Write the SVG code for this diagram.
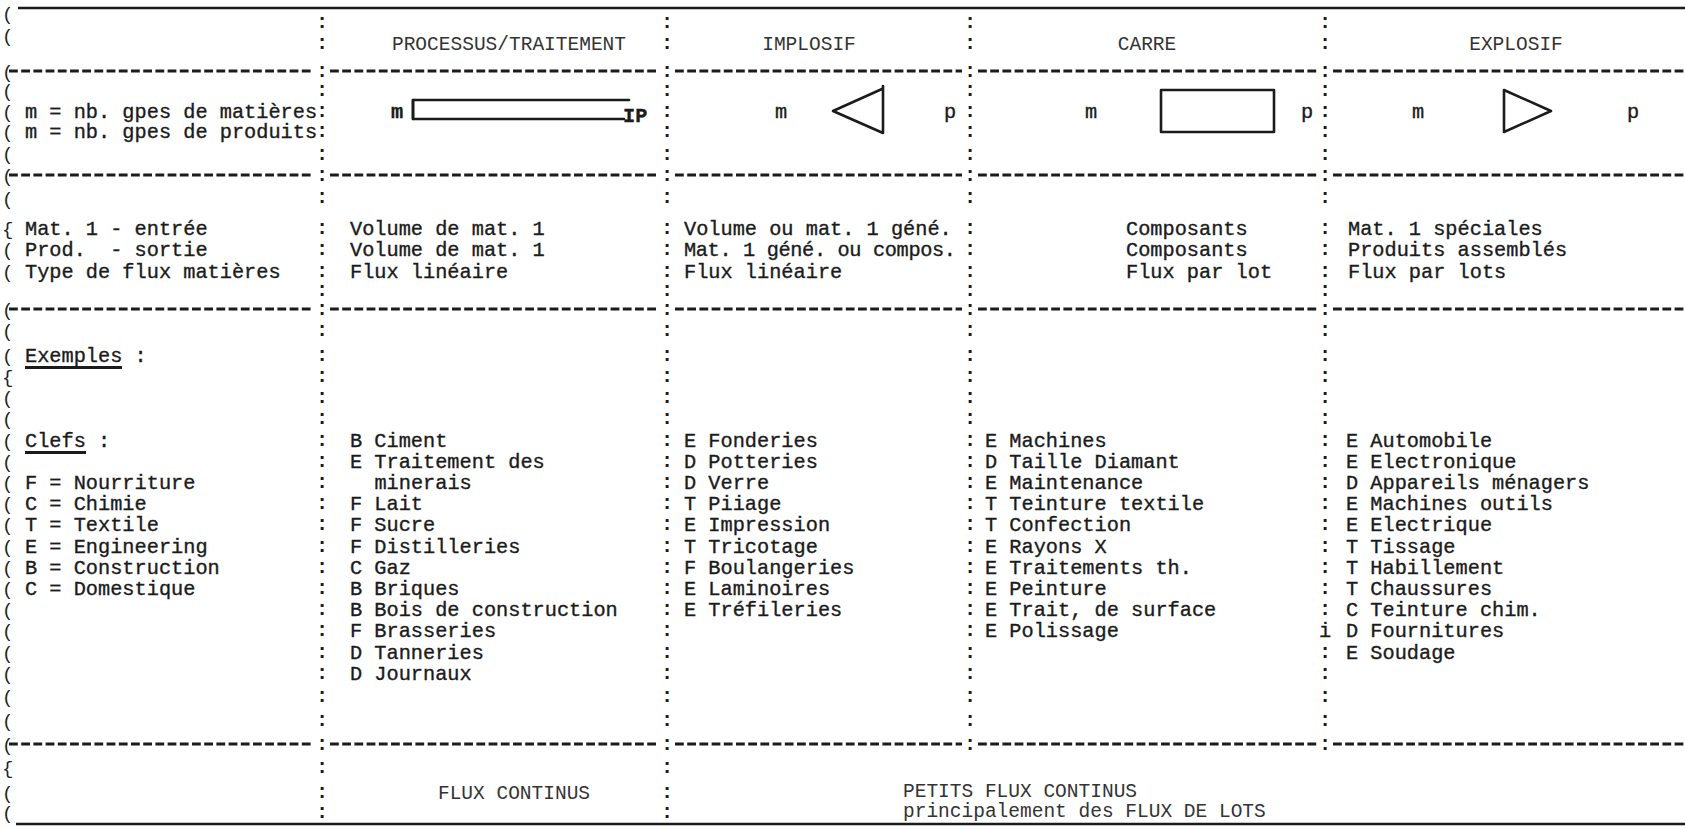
<svg xmlns="http://www.w3.org/2000/svg" width="1685" height="829" viewBox="0 0 1685 829" xml:space="preserve">
<style>
text{font-family:"Liberation Mono","DejaVu Sans Mono",monospace;font-size:20.3px;fill:#1b1b1b;stroke:#1b1b1b;stroke-width:0.35;white-space:pre}
.hd{font-size:19.5px;fill:#333;stroke:none}
.mid{text-anchor:middle}
.sep{font-weight:bold;text-anchor:middle;stroke:none}
.par{font-size:19px;fill:#222;stroke:none}
.b{font-weight:bold}
.solid{stroke:#1b1b1b;stroke-width:2.6;fill:none}
.dash{stroke:#1b1b1b;stroke-width:3;fill:none;stroke-dasharray:8.8 3.4}
.shape{stroke:#1b1b1b;stroke-width:2.6;fill:none;stroke-linejoin:round;stroke-linecap:round}
.ul{stroke:#1b1b1b;stroke-width:2.8}
</style>
<defs>
  <!-- one typed row of dashes, broken at the four column colons -->
  <g id="dashrow" class="dash">
    <line x1="9" y1="0" x2="314" y2="0"/>
    <line x1="330" y1="0" x2="659" y2="0"/>
    <line x1="675" y1="0" x2="962" y2="0"/>
    <line x1="978" y1="0" x2="1317" y2="0"/>
    <line x1="1333" y1="0" x2="1685" y2="0"/>
  </g>
  <!-- column separator: a colon on every typed line -->
  <text id="colon-upper" class="sep"><tspan x="0" y="27.5">:</tspan><tspan x="0" y="48.5">:</tspan><tspan x="0" y="76.5">:</tspan><tspan x="0" y="95.5">:</tspan><tspan x="0" y="116.5">:</tspan><tspan x="0" y="136.5">:</tspan><tspan x="0" y="159.5">:</tspan><tspan x="0" y="180.5">:</tspan><tspan x="0" y="202.5">:</tspan><tspan x="0" y="233.5">:</tspan><tspan x="0" y="254.5">:</tspan><tspan x="0" y="276.5">:</tspan><tspan x="0" y="295.5">:</tspan><tspan x="0" y="314.5">:</tspan><tspan x="0" y="335.5">:</tspan><tspan x="0" y="360.5">:</tspan><tspan x="0" y="381.5">:</tspan><tspan x="0" y="402.5">:</tspan><tspan x="0" y="423.5">:</tspan><tspan x="0" y="445.5">:</tspan><tspan x="0" y="466.7">:</tspan><tspan x="0" y="487.9">:</tspan><tspan x="0" y="509.1">:</tspan><tspan x="0" y="530.3">:</tspan><tspan x="0" y="551.5">:</tspan><tspan x="0" y="572.7">:</tspan><tspan x="0" y="593.9">:</tspan><tspan x="0" y="615.1">:</tspan><tspan x="0" y="657.5">:</tspan><tspan x="0" y="678.7">:</tspan><tspan x="0" y="701.5">:</tspan><tspan x="0" y="725.5">:</tspan><tspan x="0" y="749.5">:</tspan></text>
  <text id="colon-lower" class="sep"><tspan x="0" y="772.5">:</tspan><tspan x="0" y="797.5">:</tspan><tspan x="0" y="817.5">:</tspan></text>
</defs>

<rect width="1685" height="829" fill="#ffffff"/>

<!-- frame and row rules -->
<g id="rules">
  <line class="solid" x1="18" y1="8" x2="1685" y2="8"/>
  <line class="solid" x1="16" y1="824" x2="1685" y2="824" stroke="#333"/>
  <use href="#dashrow" y="71"/>
  <use href="#dashrow" y="175"/>
  <use href="#dashrow" y="309"/>
  <use href="#dashrow" y="744"/>
</g>

<!-- column separators -->
<g id="separators">
  <use href="#colon-upper" x="322"/>
  <use href="#colon-upper" x="667"/>
  <use href="#colon-upper" x="970"/>
  <use href="#colon-upper" x="1325"/>
  <text class="sep" x="322" y="636.3">:</text>
  <text class="sep" x="667" y="636.3">:</text>
  <text class="sep" x="970" y="636.3">:</text>
  <text class="mid" x="1325" y="637.3">i</text>
  <use href="#colon-lower" x="322"/>
  <use href="#colon-lower" x="667"/>
</g>

<!-- left margin brackets, one per typed line -->
<g id="margin">
  <text class="par"><tspan x="2" y="19.5">(</tspan><tspan x="2" y="41.5">(</tspan><tspan x="2" y="77.5">(</tspan><tspan x="2" y="96.5">(</tspan><tspan x="2" y="117.5">(</tspan><tspan x="2" y="137.5">(</tspan><tspan x="2" y="159.5">(</tspan><tspan x="2" y="181.5">(</tspan><tspan x="2" y="204.5">(</tspan><tspan x="2" y="234.5">{</tspan><tspan x="2" y="255.5">(</tspan><tspan x="2" y="277.5">(</tspan><tspan x="2" y="315.5">(</tspan><tspan x="2" y="336.5">(</tspan><tspan x="2" y="361.5">(</tspan><tspan x="2" y="382.5">{</tspan><tspan x="2" y="403.5">(</tspan><tspan x="2" y="424.5">(</tspan><tspan x="2" y="446.5">(</tspan><tspan x="2" y="467.7">(</tspan><tspan x="2" y="488.9">(</tspan><tspan x="2" y="510.1">(</tspan><tspan x="2" y="531.3">(</tspan><tspan x="2" y="552.5">(</tspan><tspan x="2" y="573.7">(</tspan><tspan x="2" y="594.9">(</tspan><tspan x="2" y="616.1">(</tspan><tspan x="2" y="637.3">(</tspan><tspan x="2" y="658.5">(</tspan><tspan x="2" y="679.7">(</tspan><tspan x="2" y="702.5">(</tspan><tspan x="2" y="726.5">(</tspan><tspan x="2" y="750.5">(</tspan><tspan x="2" y="773.5">{</tspan><tspan x="2" y="798.5">(</tspan><tspan x="2" y="818.5">(</tspan></text>
</g>

<!-- column headings -->
<g id="row-headings">
  <text class="hd mid" x="509" y="49.5">PROCESSUS/TRAITEMENT</text>
  <text class="hd mid" x="809" y="49.5">IMPLOSIF</text>
  <text class="hd mid" x="1147" y="49.5">CARRE</text>
  <text class="hd mid" x="1516" y="49.5">EXPLOSIF</text>
</g>

<!-- symbol row: m material groups, p product groups -->
<g id="row-symbols">
  <text x="25" y="117.5">m = nb. gpes de matières</text>
  <text x="25" y="137.5">m = nb. gpes de produits</text>
  <g id="sym-processus">
    <text class="b" x="391" y="117.5">m</text>
    <path class="shape" d="M629 100 H413 V119 H624"/>
    <line class="shape" x1="413" y1="100" x2="413" y2="119" stroke-width="3.8"/>
    <text class="b" x="623" y="121.5">IP</text>
  </g>
  <g id="sym-implosif">
    <text x="775" y="117.5">m</text>
    <path class="shape" d="M883 86 V133 L833 111 L882 89"/>
    <text x="944" y="117.5">p</text>
  </g>
  <g id="sym-carre">
    <text x="1085" y="117.5">m</text>
    <rect class="shape" x="1161" y="90" width="113" height="42"/>
    <text x="1301" y="117.5">p</text>
  </g>
  <g id="sym-explosif">
    <text x="1412" y="117.5">m</text>
    <path class="shape" d="M1504 90 V132 L1551 111 Z"/>
    <text x="1627" y="117.5">p</text>
  </g>
</g>

<!-- input / output / flow type row -->
<g id="row-flux">
  <text x="25" y="234.5">Mat. 1 - entrée</text>
  <text x="25" y="255.5">Prod.  - sortie</text>
  <text x="25" y="277.5">Type de flux matières</text>
  <text x="350" y="234.5">Volume de mat. 1</text>
  <text x="350" y="255.5">Volume de mat. 1</text>
  <text x="350" y="277.5">Flux linéaire</text>
  <text x="684" y="234.5">Volume ou mat. 1 géné.</text>
  <text x="684" y="255.5" textLength="272" lengthAdjust="spacing">Mat. 1 géné. ou compos.</text>
  <text x="684" y="277.5">Flux linéaire</text>
  <text x="1126" y="234.5">Composants</text>
  <text x="1126" y="255.5">Composants</text>
  <text x="1126" y="277.5">Flux par lot</text>
  <text x="1348" y="234.5">Mat. 1 spéciales</text>
  <text x="1348" y="255.5">Produits assemblés</text>
  <text x="1348" y="277.5">Flux par lots</text>
</g>

<!-- examples row -->
<g id="row-examples">
  <g id="keys">
    <text x="25" y="361.5">Exemples :</text>
    <line class="ul" x1="25" y1="367.5" x2="122" y2="367.5"/>
    <text x="25" y="446.5">Clefs :</text>
    <line class="ul" x1="25" y1="452.5" x2="86" y2="452.5"/>
    <text><tspan x="25" y="488.9">F = Nourriture</tspan><tspan x="25" y="510.1">C = Chimie</tspan><tspan x="25" y="531.3">T = Textile</tspan><tspan x="25" y="552.5">E = Engineering</tspan><tspan x="25" y="573.7">B = Construction</tspan><tspan x="25" y="594.9">C = Domestique</tspan></text>
  </g>
  <text id="ex-processus"><tspan x="350" y="446.5">B Ciment</tspan><tspan x="350" y="467.7">E Traitement des</tspan><tspan x="374.4" y="488.9">minerais</tspan><tspan x="350" y="510.1">F Lait</tspan><tspan x="350" y="531.3">F Sucre</tspan><tspan x="350" y="552.5">F Distilleries</tspan><tspan x="350" y="573.7">C Gaz</tspan><tspan x="350" y="594.9">B Briques</tspan><tspan x="350" y="616.1">B Bois de construction</tspan><tspan x="350" y="637.3">F Brasseries</tspan><tspan x="350" y="658.5">D Tanneries</tspan><tspan x="350" y="679.7">D Journaux</tspan></text>
  <text id="ex-implosif"><tspan x="684" y="446.5">E Fonderies</tspan><tspan x="684" y="467.7">D Potteries</tspan><tspan x="684" y="488.9">D Verre</tspan><tspan x="684" y="510.1">T Piiage</tspan><tspan x="684" y="531.3">E Impression</tspan><tspan x="684" y="552.5">T Tricotage</tspan><tspan x="684" y="573.7">F Boulangeries</tspan><tspan x="684" y="594.9">E Laminoires</tspan><tspan x="684" y="616.1">E Tréfileries</tspan></text>
  <text id="ex-carre"><tspan x="985" y="446.5">E Machines</tspan><tspan x="985" y="467.7">D Taille Diamant</tspan><tspan x="985" y="488.9">E Maintenance</tspan><tspan x="985" y="510.1">T Teinture textile</tspan><tspan x="985" y="531.3">T Confection</tspan><tspan x="985" y="552.5">E Rayons X</tspan><tspan x="985" y="573.7">E Traitements th.</tspan><tspan x="985" y="594.9">E Peinture</tspan><tspan x="985" y="616.1">E Trait, de surface</tspan><tspan x="985" y="637.3">E Polissage</tspan></text>
  <text id="ex-explosif"><tspan x="1346" y="446.5">E Automobile</tspan><tspan x="1346" y="467.7">E Electronique</tspan><tspan x="1346" y="488.9">D Appareils ménagers</tspan><tspan x="1346" y="510.1">E Machines outils</tspan><tspan x="1346" y="531.3">E Electrique</tspan><tspan x="1346" y="552.5">T Tissage</tspan><tspan x="1346" y="573.7">T Habillement</tspan><tspan x="1346" y="594.9">T Chaussures</tspan><tspan x="1346" y="616.1">C Teinture chim.</tspan><tspan x="1346" y="637.3">D Fournitures</tspan><tspan x="1346" y="658.5">E Soudage</tspan></text>
</g>

<!-- flow summary row -->
<g id="row-summary">
  <text class="hd mid" x="514" y="798.5">FLUX CONTINUS</text>
  <text class="hd" x="903" y="796.5">PETITS FLUX CONTINUS</text>
  <text class="hd" x="903" y="817">principalement des FLUX DE LOTS</text>
</g>
</svg>
